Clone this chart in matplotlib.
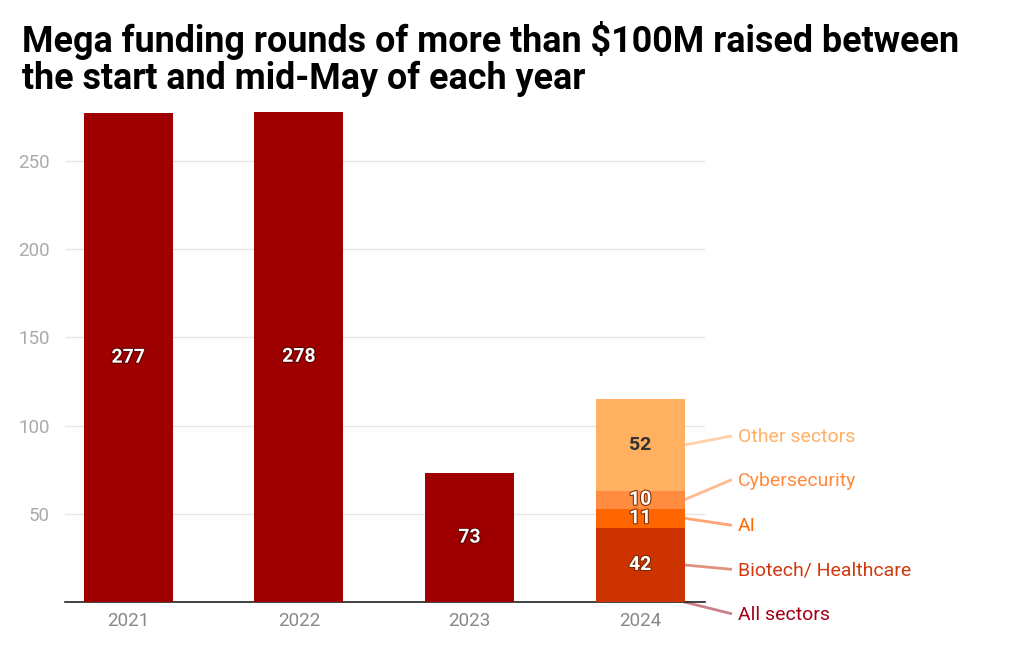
import matplotlib
matplotlib.use("Agg")
import matplotlib.pyplot as plt
import matplotlib.patheffects as pe

plt.rcParams['font.family'] = ['Roboto', 'DejaVu Sans']

# data
years = ['2021', '2022', '2023', '2024']
all_sectors = [277, 278, 73]
sectors_2024 = ['Biotech/ Healthcare', 'AI', 'Cybersecurity', 'Other sectors']
values_2024 = [42, 11, 10, 52]

# colours
c_all = '#9e0000'
seg_colors = ['#cc3300', '#ff6600', '#ff8c40', '#ffb060']
lab_colors = ['#d13a0e', '#ff6a00', '#ff8a3d', '#ffb066']
line_colors = ['#e2917e', '#ffa472', '#ffba8f', '#ffd0a8']
all_lab_color = '#a30015'
all_line_color = '#c98088'

fig = plt.figure(figsize=(10.21, 6.5), dpi=100)
ax = fig.add_axes([0.0637, 0.0738, 0.6268, 0.76])

w = 0.52
xs = list(range(len(years)))

# first three years: single bar
for i, v in enumerate(all_sectors):
    ax.bar(i, v, width=w, color=c_all, zorder=3)
    ax.text(i, v / 2, str(v), ha='center', va='center', color='white',
            fontsize=14, fontweight='bold', zorder=4,
            path_effects=[pe.withStroke(linewidth=1.5, foreground='#5a0000')])

# 2024 stacked
x24 = 3
bottom = 0
mids = []
for v, c in zip(values_2024, seg_colors):
    ax.bar(x24, v, width=w, bottom=bottom, color=c, zorder=3)
    mids.append(bottom + v / 2)
    bottom += v
for k, (v, m) in enumerate(zip(values_2024, mids)):
    if k == 3:
        ax.text(x24, m, str(v), ha='center', va='center', color='#333333',
                fontsize=14, fontweight='bold', zorder=4)
    else:
        ax.text(x24, m, str(v), ha='center', va='center', color='white',
                fontsize=14, fontweight='bold', zorder=4,
                path_effects=[pe.withStroke(linewidth=1.5, foreground='#7a2a00')])

# labels to the right with connector lines
x_edge = x24 + w / 2
x_line_end = 3.53
x_text = 3.575
lab_y = [18.1, 43.1, 68.6, 93.5]
for name, m, ly, tc, lc in zip(sectors_2024, mids, lab_y, lab_colors, line_colors):
    ax.plot([x_edge, x_line_end], [m, ly + 0.5], color=lc, lw=2, clip_on=False, zorder=2)
    ax.text(x_text, ly, name, color=tc, fontsize=14, va='center', ha='left', clip_on=False)
ax.plot([x_edge, x_line_end], [0, -6.5], color=all_line_color, lw=2, clip_on=False, zorder=2)
ax.text(x_text, -7.4, 'All sectors', color=all_lab_color, fontsize=14, va='center',
        ha='left', clip_on=False)

ax.set_xlim(-0.37, 3.38)
ax.set_ylim(0, 280)
ax.set_xticks(xs)
ax.set_xticklabels(years)
ax.set_yticks([50, 100, 150, 200, 250])
ax.tick_params(axis='both', length=0, labelsize=13.5, colors='#999999')
ax.tick_params(axis='x', pad=7, labelcolor='#888888')
ax.tick_params(axis='y', pad=11, labelcolor='#aaaaaa')
ax.grid(axis='y', color='#e6e6e6', lw=1, zorder=0)
for s in ['top', 'right', 'left']:
    ax.spines[s].set_visible(False)
ax.spines['bottom'].set_color('#222222')
ax.spines['bottom'].set_linewidth(1.2)

fig.text(0.0215, 0.968, 'Mega funding rounds of more than $100M raised between\nthe start and mid-May of each year',
         fontsize=25.8, fontweight='bold', color='#000000', ha='left', va='top', linespacing=1.05)

fig.savefig('out.png', dpi=100, facecolor='white')
